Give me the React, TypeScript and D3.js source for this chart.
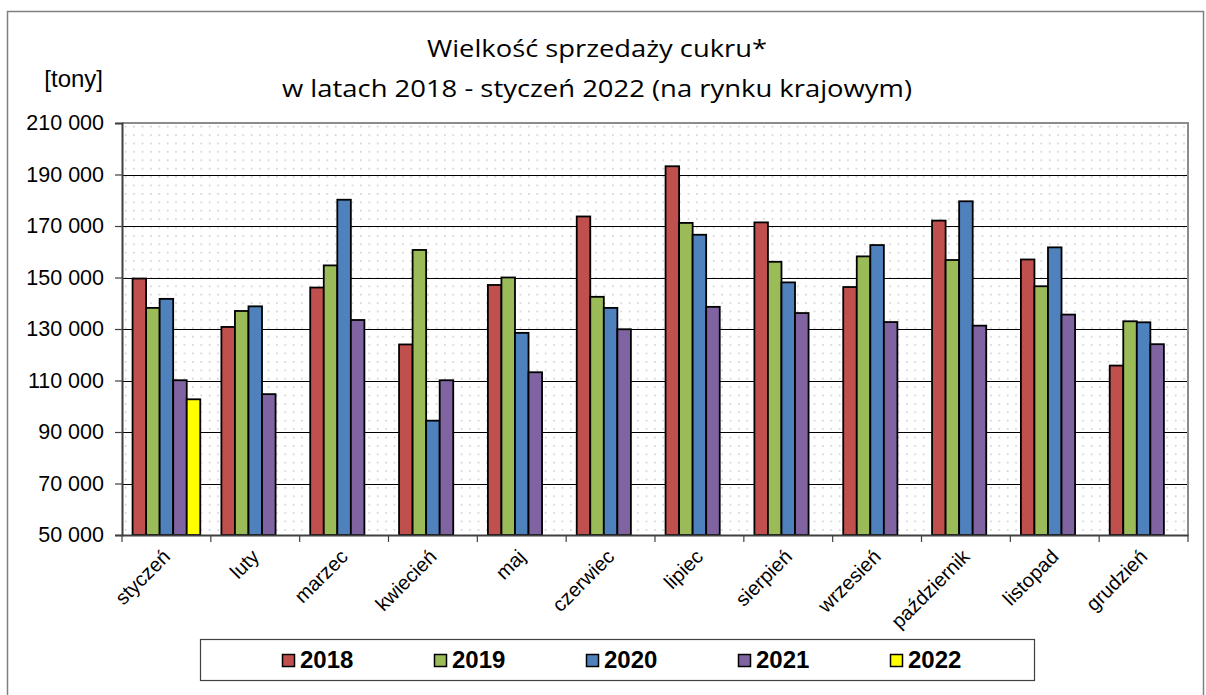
// Sugar sales chart, grouped bars by month, drawn with d3
import React, { useRef, useEffect } from 'react';
import * as d3 from 'd3';

const months = ['styczeń', 'luty', 'marzec', 'kwiecień', 'maj', 'czerwiec', 'lipiec', 'sierpień', 'wrzesień', 'październik', 'listopad', 'grudzień'];
const years = ['2018', '2019', '2020', '2021', '2022'];

const sales2018 = [149600, 130800, 146100, 124000, 147100, 173700, 193200, 171400, 146300, 172100, 157000, 115800];
const sales2019 = [138200, 137000, 154700, 160700, 150000, 142500, 171200, 156100, 158200, 156800, 146600, 133000];
const sales2020 = [141700, 138800, 180200, 94400, 128500, 138200, 166600, 148100, 162600, 179600, 161700, 132600];
const sales2021 = [110100, 104700, 133500, 110100, 113200, 129900, 138600, 136200, 132700, 131300, 135600, 124100];
const sales2022 = [102700];

const yTicks = [50000, 70000, 90000, 110000, 130000, 150000, 170000, 190000, 210000];
const colors = ['#C0504D', '#9BBB59', '#4F81BD', '#8064A2', '#FFFF00'];

const titleLines = ['Wielkość sprzedaży cukru*', 'w latach 2018 - styczeń 2022 (na rynku krajowym)'];

const App = () => {
  const svgRef = useRef<SVGSVGElement>(null);

  useEffect(() => {
    const width = 1206;
    const height = 695;
    const plot = { left: 122, right: 1188, top: 123, bottom: 535 };
    const svg = d3.select(svgRef.current);
    svg.selectAll('*').remove();
    svg.attr('width', width).attr('height', height);

    const series = [sales2018, sales2019, sales2020, sales2021, sales2022];

    // outer frame
    svg.append('rect')
      .attr('x', 7.5).attr('y', 11.5)
      .attr('width', 1196).attr('height', 700)
      .attr('fill', '#fff')
      .attr('stroke', '#808080')
      .attr('stroke-width', 1.5);

    // dotted background pattern
    const defs = svg.append('defs');
    const pat = defs.append('pattern')
      .attr('id', 'dots')
      .attr('patternUnits', 'userSpaceOnUse')
      .attr('width', 8.4).attr('height', 8.4)
      .attr('x', plot.left).attr('y', plot.top);
    pat.append('rect').attr('width', 8.4).attr('height', 8.4).attr('fill', '#fff');
    pat.append('rect').attr('x', 3).attr('y', 3).attr('width', 1.3).attr('height', 1.3).attr('fill', '#b4b4b4');

    svg.append('rect')
      .attr('x', plot.left).attr('y', plot.top)
      .attr('width', plot.right - plot.left).attr('height', plot.bottom - plot.top)
      .attr('fill', 'url(#dots)');

    // scales
    const x0 = d3.scaleBand().domain(months).range([plot.left, plot.right]).padding(0);
    const x1 = d3.scaleBand().domain(years).range([0, x0.bandwidth()]).paddingInner(0).paddingOuter(0.78);
    const y = d3.scaleLinear().domain([50000, 210000]).range([plot.bottom, plot.top]);

    // grid lines
    svg.append('g')
      .selectAll('line')
      .data(yTicks.slice(1, -1))
      .join('line')
        .attr('x1', plot.left).attr('x2', plot.right)
        .attr('y1', d => Math.round(y(d)) + 0.5).attr('y2', d => Math.round(y(d)) + 0.5)
        .attr('stroke', '#000')
        .attr('stroke-width', 1.2);

    // bars
    const groups = svg.append('g')
      .selectAll('g')
      .data(months)
      .join('g')
        .attr('transform', m => `translate(${x0(m)},0)`);

    groups.selectAll('rect')
      .data((m, i) => series.map((s, k) => ({ key: years[k], value: s[i], k })).filter(d => d.value != null))
      .join('rect')
        .attr('x', d => x1(d.key)!)
        .attr('y', d => y(d.value))
        .attr('width', x1.bandwidth())
        .attr('height', d => plot.bottom - y(d.value))
        .attr('fill', d => colors[d.k])
        .attr('stroke', '#000')
        .attr('stroke-width', 1.8);

    // plot border (top/right grey)
    svg.append('path')
      .attr('d', `M${plot.left},${plot.top}H${plot.right}V${plot.bottom}`)
      .attr('fill', 'none')
      .attr('stroke', '#8c8c8c')
      .attr('stroke-width', 2);

    // y axis
    const yAxis = d3.axisLeft(y)
      .tickValues(yTicks)
      .tickSize(7)
      .tickPadding(11)
      .tickFormat(d => d3.format(',')(d as number).replace(/,/g, ' '));

    const ya = svg.append('g')
      .attr('transform', `translate(${plot.left},0)`)
      .call(yAxis);
    ya.select('.domain').attr('stroke', '#404040').attr('stroke-width', 2);
    ya.selectAll('.tick line').attr('stroke', '#404040').attr('stroke-width', 1.2);
    ya.selectAll('text')
      .attr('font-family', '"Liberation Sans", Arial, sans-serif')
      .attr('font-size', 21.5)
      .attr('fill', '#000');

    // x axis
    const xAxis = d3.axisBottom(x0).tickSize(0).tickFormat(() => '');
    const xa = svg.append('g')
      .attr('transform', `translate(0,${plot.bottom})`)
      .call(xAxis);
    xa.select('.domain').attr('stroke', '#404040').attr('stroke-width', 2);
    // ticks at category boundaries
    xa.selectAll('line.sep')
      .data(d3.range(months.length + 1))
      .join('line')
        .attr('class', 'sep')
        .attr('x1', i => plot.left + i * x0.step()).attr('x2', i => plot.left + i * x0.step())
        .attr('y1', 0).attr('y2', 7)
        .attr('stroke', '#404040')
        .attr('stroke-width', 1.2);

    svg.append('g')
      .selectAll('text')
      .data(months)
      .join('text')
        .attr('transform', m => `translate(${x0(m)! + x0.bandwidth() / 2 + 5},558) rotate(-45)`)
        .attr('text-anchor', 'end')
        .attr('font-family', '"Liberation Sans", Arial, sans-serif')
        .attr('font-size', 20)
        .text(m => m);

    // axis unit
    svg.append('text')
      .attr('x', 103).attr('y', 87)
      .attr('text-anchor', 'end')
      .attr('font-family', '"Liberation Sans", Arial, sans-serif')
      .attr('font-size', 24)
      .text('[tony]');

    // title
    const titleWidths = [340, 630];
    svg.append('g')
      .selectAll('text')
      .data(titleLines)
      .join('text')
        .attr('x', 597)
        .attr('y', (d, i) => 57 + i * 40)
        .attr('text-anchor', 'middle')
        .attr('font-family', '"Comic Sans MS", "Open Sans", sans-serif')
        .attr('font-size', 23)
        .attr('textLength', (d, i) => titleWidths[i])
        .attr('lengthAdjust', 'spacingAndGlyphs')
        .text(d => d);

    // legend
    const legend = svg.append('g');
    legend.append('rect')
      .attr('x', 200.5).attr('y', 639.5)
      .attr('width', 834).attr('height', 41)
      .attr('fill', '#fff')
      .attr('stroke', '#404040')
      .attr('stroke-width', 1.2);

    const items = legend.selectAll('g')
      .data(years)
      .join('g')
        .attr('transform', (d, i) => `translate(${282 + i * 152},0)`);
    items.append('rect')
      .attr('x', 0.5).attr('y', 654.5)
      .attr('width', 12).attr('height', 12)
      .attr('fill', (d, i) => colors[i])
      .attr('stroke', '#000')
      .attr('stroke-width', 1.5);
    items.append('text')
      .attr('x', 18).attr('y', 668)
      .attr('font-family', '"Liberation Sans", Arial, sans-serif')
      .attr('font-weight', 'bold')
      .attr('font-size', 24)
      .text(d => d);
  }, []);

  return (
    <svg ref={svgRef} style={{ position: 'absolute', left: 0, top: 0, background: '#fff' }}></svg>
  );
};

export default App;
